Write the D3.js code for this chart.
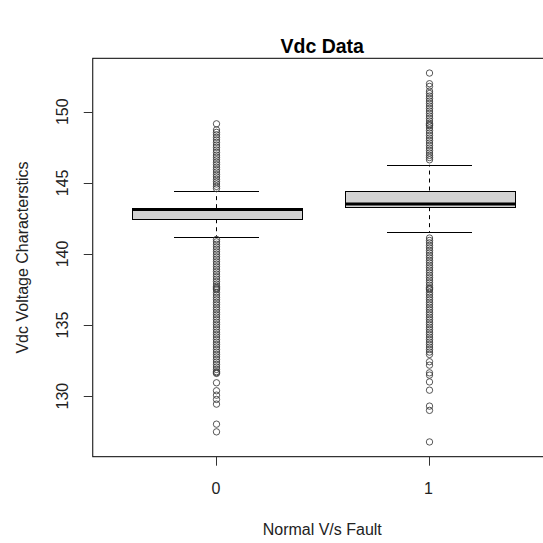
<!DOCTYPE html>
<html>
<head>
<meta charset="utf-8">
<script src="https://cdn.jsdelivr.net/npm/d3@7"></script>
<style>
  html, body { margin: 0; padding: 0; background: #fff; }
  svg { display: block; }
  text { font-family: "Liberation Sans", Arial, sans-serif; }
</style>
</head>
<body>
<div id="chart"></div>
<script>
// ---- Data ----
const categories = ["0", "1"];
const whiskerLow  = [141.22, 141.53];
const q1          = [142.44, 143.29];
const median      = [143.12, 143.52];
const q3          = [143.22, 144.46];
const whiskerHigh = [144.44, 146.27];

const outliers0 = [
  149.15, 148.72, 148.55, 148.38, 148.2, 148.02, 147.85, 147.66, 147.5, 147.31,
  147.14, 146.95, 146.8, 146.62, 146.45, 146.28, 146.1, 145.93, 145.76, 145.58,
  145.42, 145.25, 145.08, 144.92, 144.75, 144.6,
  141.02, 140.85, 140.68, 140.5, 140.33, 140.15, 139.98, 139.8, 139.63, 139.45,
  139.28, 139.1, 138.93, 138.76, 138.58, 138.4, 138.23, 138.06, 137.88, 137.72,
  137.62, 137.55, 137.48, 137.3, 137.12, 136.95, 136.78, 136.6, 136.43, 136.25,
  136.08, 135.9, 135.73, 135.56, 135.38, 135.2, 135.03, 134.86, 134.68, 134.5,
  134.33, 134.16, 133.98, 133.8, 133.63, 133.46, 133.28, 133.1, 132.93, 132.76,
  132.58, 132.4, 132.23, 132.05, 131.88, 131.72, 131.65, 131.6,
  130.94, 130.38, 130.07, 129.77, 129.44, 128.03, 127.49
];
const outliers1 = [
  152.72, 151.97, 151.78, 151.45, 151.28, 151.1, 150.93, 150.75, 150.58, 150.4,
  150.23, 150.05, 149.88, 149.7, 149.53, 149.35, 149.18, 149.08, 149.02, 148.86,
  148.68, 148.5, 148.33, 148.15, 147.98, 147.8, 147.63, 147.45, 147.28, 147.1,
  146.93, 146.78, 146.62,
  141.12, 140.95, 140.78, 140.6, 140.43, 140.25, 140.08, 139.9, 139.73, 139.55,
  139.38, 139.2, 139.03, 138.86, 138.68, 138.5, 138.33, 138.16, 137.98, 137.8,
  137.63, 137.55, 137.48, 137.3, 137.13, 136.95, 136.78, 136.6, 136.43, 136.25,
  136.08, 135.9, 135.73, 135.55, 135.38, 135.2, 135.03, 134.85, 134.68, 134.5,
  134.33, 134.15, 133.98, 133.8, 133.63, 133.45, 133.28, 133.1, 132.93,
  132.42, 132.18, 131.64, 131.48, 131.0, 130.42, 129.3, 129.0, 126.78
];
const outliers = [outliers0, outliers1];
const yTicks = [130, 135, 140, 145, 150];

const titleText = "Vdc Data";
const xTitle = "Normal V/s Fault";
const yTitle = "Vdc Voltage Characterstics";

// ---- Layout ----
const W = 543, H = 543;
const plotLeft = 92.75, plotRight = 551.75, plotTop = 58.3, plotBottom = 456.7;
const boxWex = 0.8;

const svg = d3.select("#chart").append("svg")
  .attr("width", W).attr("height", H);

const n = categories.length;
const x = d3.scaleLinear()
  .domain([0.5 - 0.04 * n, n + 0.5 + 0.04 * n])
  .range([plotLeft, plotRight]);

const all = outliers0.concat(outliers1, whiskerLow, whiskerHigh);
const [mn, mx] = d3.extent(all);
const pad = 0.04 * (mx - mn);
const y = d3.scaleLinear()
  .domain([mn - pad, mx + pad])
  .range([plotBottom, plotTop]);

const halfW = (x(1 + boxWex / 2) - x(1));
const capHalf = halfW * 0.5;

const g = svg.append("g");

categories.forEach((c, i) => {
  const cx = Math.round(x(i + 1)) + 0.5;
  // whiskers (dashed)
  g.append("line")
    .attr("x1", cx).attr("x2", cx)
    .attr("y1", y(q3[i])).attr("y2", y(whiskerHigh[i]))
    .attr("stroke", "#000").attr("stroke-width", 1).attr("stroke-dasharray", "4,4");
  g.append("line")
    .attr("x1", cx).attr("x2", cx)
    .attr("y1", y(q1[i])).attr("y2", y(whiskerLow[i]))
    .attr("stroke", "#000").attr("stroke-width", 1).attr("stroke-dasharray", "4,4");
  // staples
  [whiskerHigh[i], whiskerLow[i]].forEach(v => {
    const yy = Math.round(y(v)) + 0.5;
    g.append("line")
      .attr("x1", cx - capHalf).attr("x2", cx + capHalf)
      .attr("y1", yy).attr("y2", yy)
      .attr("stroke", "#000").attr("stroke-width", 1);
  });
  // box
  const yTop = Math.round(y(q3[i])) + 0.5;
  const yBot = Math.round(y(q1[i])) + 0.5;
  g.append("rect")
    .attr("x", Math.round(cx - halfW) + 0.5)
    .attr("y", yTop)
    .attr("width", Math.round(2 * halfW))
    .attr("height", yBot - yTop)
    .attr("fill", "#d3d3d3").attr("stroke", "#000").attr("stroke-width", 1);
  // median
  g.append("line")
    .attr("x1", Math.round(cx - halfW) + 0.5).attr("x2", Math.round(cx - halfW) + 0.5 + Math.round(2 * halfW))
    .attr("y1", y(median[i])).attr("y2", y(median[i]))
    .attr("stroke", "#000").attr("stroke-width", 3);
  // outliers
  g.selectAll(null).data(outliers[i]).enter().append("circle")
    .attr("cx", cx).attr("cy", d => y(d)).attr("r", 3.2)
    .attr("fill", "none").attr("stroke", "#3a3a3a").attr("stroke-width", 0.85);
});

// plot frame
svg.append("rect")
  .attr("x", plotLeft).attr("y", plotTop)
  .attr("width", plotRight - plotLeft).attr("height", plotBottom - plotTop)
  .attr("fill", "none").attr("stroke", "#000").attr("stroke-width", 1);

// y axis
const yAxisG = svg.append("g");
yTicks.forEach(t => {
  const yy = Math.round(y(t)) + 0.5;
  yAxisG.append("line")
    .attr("x1", plotLeft).attr("x2", plotLeft - 9)
    .attr("y1", yy).attr("y2", yy)
    .attr("stroke", "#333").attr("stroke-width", 1);
  yAxisG.append("text")
    .attr("transform", `translate(68,${y(t)}) rotate(-90)`)
    .attr("text-anchor", "middle")
    .attr("font-size", 16).attr("fill", "#222")
    .text(t);
});

// x axis
categories.forEach((c, i) => {
  const xx = Math.round(x(i + 1)) + 0.5;
  svg.append("line")
    .attr("x1", xx).attr("x2", xx)
    .attr("y1", plotBottom).attr("y2", plotBottom + 9)
    .attr("stroke", "#333").attr("stroke-width", 1);
  svg.append("text")
    .attr("x", x(i + 1)).attr("y", 494)
    .attr("text-anchor", "middle")
    .attr("font-size", 16).attr("fill", "#222")
    .text(c);
});

// titles
const cxPlot = (plotLeft + plotRight) / 2;
svg.append("text")
  .attr("x", cxPlot).attr("y", 53)
  .attr("text-anchor", "middle")
  .attr("font-size", 19.5).attr("font-weight", "bold").attr("fill", "#000")
  .text(titleText);
svg.append("text")
  .attr("x", cxPlot).attr("y", 535)
  .attr("text-anchor", "middle")
  .attr("font-size", 16).attr("fill", "#222")
  .text(xTitle);
svg.append("text")
  .attr("transform", `translate(28,${(plotTop + plotBottom) / 2}) rotate(-90)`)
  .attr("text-anchor", "middle")
  .attr("font-size", 16).attr("fill", "#222")
  .text(yTitle);
</script>
</body>
</html>
